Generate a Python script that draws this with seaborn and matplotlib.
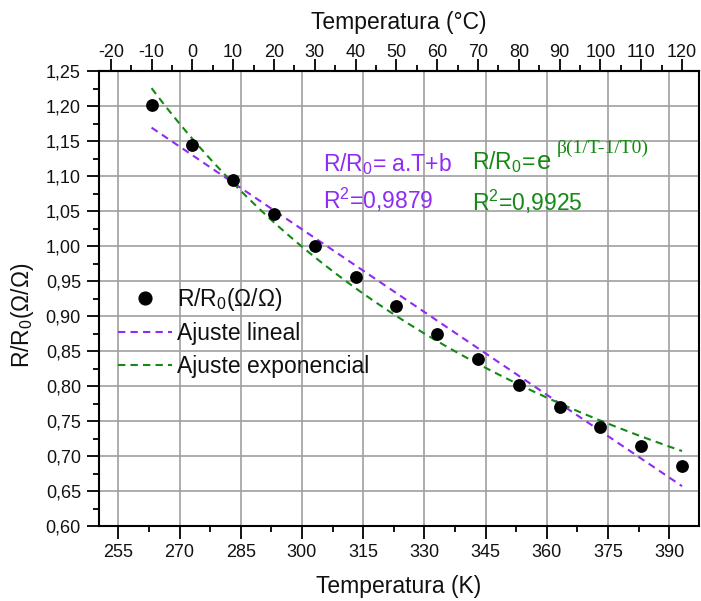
import numpy as np
import pandas as pd
import matplotlib
matplotlib.use("Agg")
import matplotlib.pyplot as plt
from matplotlib.ticker import FixedLocator, MultipleLocator, FuncFormatter
from matplotlib.lines import Line2D
import seaborn as sns

# Measured resistance ratio vs temperature
temp_c = [-10, 0, 10, 20, 30, 40, 50, 60, 70, 80, 90, 100, 110, 120]
ratio = [1.201, 1.145, 1.094, 1.046, 1.000, 0.956, 0.914, 0.875,
         0.838, 0.802, 0.770, 0.741, 0.714, 0.686]

# Goodness of fit reported for each model
r2_linear = "0,9879"
r2_exp = "0,9925"

# Tick positions
kelvin_ticks = [255, 270, 285, 300, 315, 330, 345, 360, 375, 390]
celsius_ticks = [-20, -10, 0, 10, 20, 30, 40, 50, 60, 70, 80, 90, 100, 110, 120]
ratio_ticks = [0.60, 0.65, 0.70, 0.75, 0.80, 0.85, 0.90, 0.95,
               1.00, 1.05, 1.10, 1.15, 1.20, 1.25]

PURPLE = "#8F2BF2"
GREEN = "#138A13"

sns.set_theme(style="ticks")
plt.rcParams["font.family"] = ["Liberation Sans", "DejaVu Sans"]
plt.rcParams["mathtext.fontset"] = "custom"
plt.rcParams["mathtext.rm"] = "Liberation Sans"
plt.rcParams["mathtext.it"] = "Liberation Sans:italic"
plt.rcParams["mathtext.bf"] = "Liberation Sans:bold"
plt.rcParams["axes.unicode_minus"] = False

T = np.array(temp_c, dtype=float) + 273.15
R = np.array(ratio, dtype=float)
data = pd.DataFrame({"T": T, "R": R})

# Linear model R/R0 = a*T + b
a, b = np.polyfit(T, R, 1)

# Exponential model R/R0 = exp(beta*(1/T - 1/T0)) -> exp(c + beta/T), least squares
x = 1.0 / T
beta, c = np.polyfit(x, np.log(R), 1)
for _ in range(100):
    f = np.exp(c + beta * x)
    J = np.column_stack([f, f * x])
    step, *_ = np.linalg.lstsq(J, R - f, rcond=None)
    c += step[0]
    beta += step[1]

T_fit = np.linspace(T.min(), T.max(), 300)
fits = pd.DataFrame({
    "T": T_fit,
    "lin": a * T_fit + b,
    "exp": np.exp(c + beta / T_fit),
})

fig = plt.figure(figsize=(7.01, 6.01), dpi=100)
ax = fig.add_axes([99 / 701, 75 / 601, 600 / 701, 455 / 601])

sns.lineplot(data=fits, x="T", y="lin", ax=ax, color=PURPLE, lw=1.5,
             dashes=False, zorder=2)
ax.lines[-1].set_dashes((3.5, 2.5))
sns.lineplot(data=fits, x="T", y="exp", ax=ax, color=GREEN, lw=1.5,
             dashes=False, zorder=2)
ax.lines[-1].set_dashes((3.5, 2.5))
sns.scatterplot(data=data, x="T", y="R", ax=ax, color="black", s=85,
                edgecolor="black", linewidth=0, zorder=3)

ax.set_xlim(250.27, 397.3)
ax.set_ylim(0.60, 1.25)

ax.xaxis.set_major_locator(FixedLocator(kelvin_ticks))
ax.xaxis.set_minor_locator(MultipleLocator(7.5))
ax.yaxis.set_major_locator(FixedLocator(ratio_ticks))
ax.yaxis.set_minor_locator(MultipleLocator(0.025))
ax.yaxis.set_major_formatter(FuncFormatter(lambda v, p: f"{v:.2f}".replace(".", ",")))

ax.grid(True, which="major", color="#a0a0a0", lw=1.2)
ax.set_axisbelow(True)
for s in ax.spines.values():
    s.set_color("black")
    s.set_linewidth(1.5)

ax.tick_params(which="major", direction="out", length=9, width=1.3,
               labelsize=13, color="black", labelcolor="#111111")
ax.tick_params(which="minor", direction="out", length=4.5, width=1.3, color="black")
ax.tick_params(axis="x", pad=4)
ax.tick_params(axis="y", pad=4)
ax.tick_params(top=False, right=False, which="both")

ax.set_xlabel("Temperatura (K)", fontsize=16.5, labelpad=10, color="#111111")
ax.set_ylabel("R/R$_0$(Ω/Ω)", fontsize=16.5, color="#111111")
ax.yaxis.set_label_coords(-0.105, 0.464)

# Celsius scale along the top edge
top = ax.secondary_xaxis("top", functions=(lambda k: k - 273.15, lambda t: t + 273.15))
top.xaxis.set_major_locator(FixedLocator(celsius_ticks))
top.xaxis.set_minor_locator(MultipleLocator(5))
top.tick_params(which="major", direction="out", length=9, width=1.3,
                labelsize=13, pad=-2, color="black", labelcolor="#111111")
top.tick_params(which="minor", direction="out", length=4.5, width=1.3, color="black")
top.spines["top"].set_linewidth(1.5)
top.set_xlabel("Temperatura (°C)", fontsize=16.5, labelpad=11, color="#111111")

# Model equations and fit quality
ax.text(305.2, 1.1076, "R/R$_0$= a.T+b", color=PURPLE, fontsize=16.5, va="baseline")
ax.text(305.2, 1.0529, "R$^2$=" + r2_linear, color=PURPLE, fontsize=16.5, va="baseline")
ax.text(341.66, 1.1093, "R/R$_0$=", color=GREEN, fontsize=16.5, va="baseline")
ax.text(357.5, 1.1093, "e", color=GREEN, fontsize=18.5, va="baseline")
ax.text(362.4, 1.1330, "β(1/T-1/T0)", color=GREEN, fontsize=14, va="baseline",
        family=["Liberation Serif", "DejaVu Serif"])
ax.text(341.66, 1.050, "R$^2$=" + r2_exp, color=GREEN, fontsize=16.5, va="baseline")

handles = [
    Line2D([], [], ls="none", marker="o", color="black", markersize=9.2),
    Line2D([], [], color=PURPLE, lw=1.5, dashes=(3.5, 2.5)),
    Line2D([], [], color=GREEN, lw=1.5, dashes=(3.5, 2.5)),
]
labels = ["R/R$_0$(Ω/Ω)", "Ajuste lineal", "Ajuste exponencial"]
ax.legend(handles, labels, loc="upper left", bbox_to_anchor=(0.031, 0.527),
          frameon=False, fontsize=16.5, handlelength=2.36, handletextpad=0.22,
          labelspacing=0.4, borderpad=0, borderaxespad=0, labelcolor="#111111")

fig.savefig("out.png", dpi=100, facecolor="white")
